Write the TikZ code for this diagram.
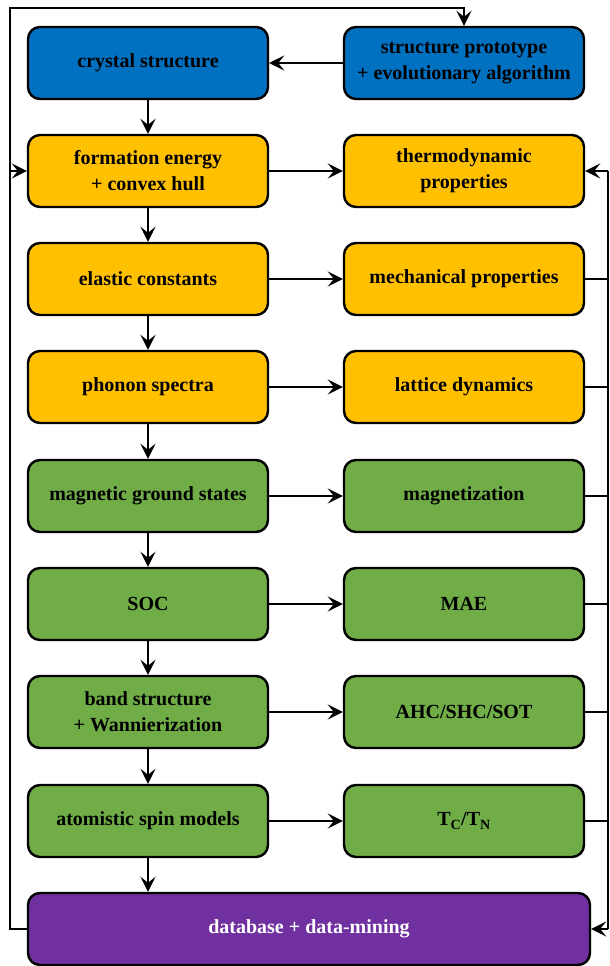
\documentclass[tikz,border=0pt]{standalone}
\usepackage{fontspec}
\setmainfont{Liberation Serif}[BoldFont={Liberation Serif Bold}]
\usepackage{xcolor}
\usepackage{tikz}
\usetikzlibrary{arrows.meta}

\definecolor{stepblue}{HTML}{0070C0}
\definecolor{steporange}{HTML}{FFC000}
\definecolor{stepgreen}{HTML}{70AD47}
\definecolor{steppurple}{HTML}{7030A0}

\begin{document}
\begin{tikzpicture}[
      >={Stealth[length=15pt, width=15pt, inset=6pt]},
      x=1pt, y=-1pt,
      box/.style={draw, line width=2.4pt, rounded corners=12pt, align=center,
        minimum width=240pt, minimum height=72pt, text=black,
        font=\bfseries\fontsize{20}{26}\selectfont},
      link/.style={line width=2.8pt}
    ]
    \useasboundingbox (0,0) rectangle (610,966);

    % Struttura
    \node[box, fill=stepblue] (crystal) at (148,63) {crystal structure};
    \node[box, fill=stepblue] (proto) at (464,63) {structure prototype\\+ evolutionary algorithm};

    % Calcoli (colonna sinistra)
    \node[box, fill=steporange] (form) at (148,171) {formation energy\\+ convex hull};
    \node[box, fill=steporange] (elast) at (148,279) {elastic constants};
    \node[box, fill=steporange] (phon) at (148,387) {phonon spectra};
    \node[box, fill=stepgreen] (mag) at (148,496) {magnetic ground states};
    \node[box, fill=stepgreen] (soc) at (148,604) {SOC};
    \node[box, fill=stepgreen] (band) at (148,712) {band structure\\+ Wannierization};
    \node[box, fill=stepgreen] (spin) at (148,821) {atomistic spin models};

    % Proprieta (colonna destra)
    \node[box, fill=steporange] (thermo) at (464,171) {thermodynamic\\properties};
    \node[box, fill=steporange] (mech) at (464,279) {mechanical properties};
    \node[box, fill=steporange] (latt) at (464,387) {lattice dynamics};
    \node[box, fill=stepgreen] (magn) at (464,496) {magnetization};
    \node[box, fill=stepgreen] (mae) at (464,604) {MAE};
    \node[box, fill=stepgreen] (ahc) at (464,712) {AHC/SHC/SOT};
    \node[box, fill=stepgreen] (tc) at (464,821) {T\textsubscript{C}/T\textsubscript{N}};

    % Database
    \node[box, fill=steppurple, text=white, minimum width=562pt] (db) at (309,929) {database + data-mining};

    % Binari laterali
    \coordinate (lrail) at (10,8);
    \coordinate (rrail) at (608,8);

    % Frecce verticali
    \foreach \a/\b in {crystal/form, form/elast, elast/phon, phon/mag, mag/soc, soc/band, band/spin}
      \draw[link, ->] (\a) -- (\b);
    \draw[link, ->] (spin.south) -- (spin.south |- db.north);

    % Frecce orizzontali
    \draw[link, ->] (proto) -- (crystal);
    \foreach \a/\b in {form/thermo, elast/mech, phon/latt, mag/magn, soc/mae, band/ahc, spin/tc}
      \draw[link, ->] (\a) -- (\b);

    % Ritorno a sinistra
    \draw[link, ->] (db.west) -| (lrail) -| (proto.north);
    \draw[link, ->] (form.west -| lrail) -- (form.west);

    % Raccolta a destra
    \foreach \n in {mech, latt, magn, mae, ahc, tc}
      \draw[link] (\n.east) -- (\n.east -| rrail);
    \draw[link] (thermo.east -| rrail) -- (db.east -| rrail);
    \draw[link, ->] (thermo.east -| rrail) -- (thermo.east);
    \draw[link, ->] (db.east -| rrail) -- (db.east);
  \end{tikzpicture}
\end{document}
